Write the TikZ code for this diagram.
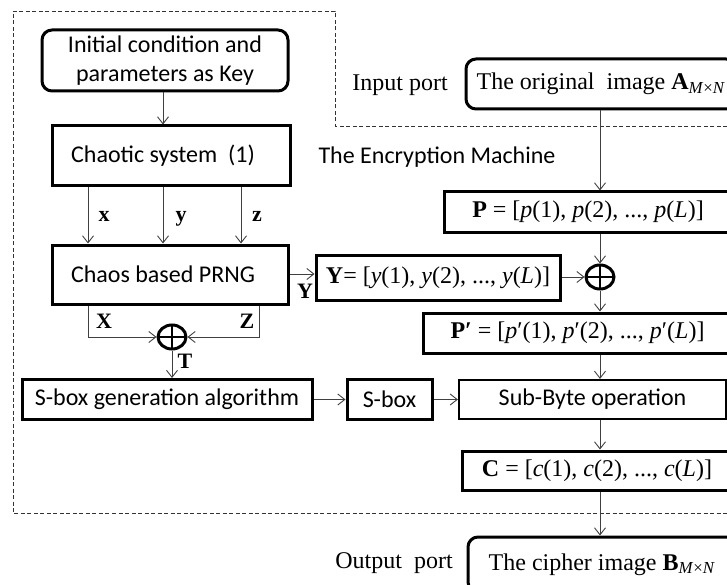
\documentclass[tikz,border=0pt]{standalone}
\usepackage{fontspec}
\setmainfont{Liberation Serif}
\newfontfamily\calib{Carlito}
\usetikzlibrary{arrows.meta,shapes.geometric}

% subscript "M x N"
\newcommand{\mxn}{\textsubscript{\textit{M}×\textit{N}}}

\begin{document}
\begin{tikzpicture}[x=1pt,y=-1pt,
  box/.style={draw, line width=3pt, rectangle, inner sep=0pt,
    font=\calib\fontsize{24}{29}\selectfont},
  rbox/.style={box, rounded corners=10pt},
  mbox/.style={draw, line width=3pt, rectangle, inner sep=0pt,
    font=\fontsize{24}{28}\selectfont},
  rmbox/.style={mbox, rounded corners=10pt},
  lab/.style={font=\bfseries\fontsize{22}{24}\selectfont, inner sep=0pt, anchor=base},
  plain/.style={font=\fontsize{24}{28}\selectfont, inner sep=0pt},
  arr/.style={-{Straight Barb[length=7pt,width=11pt]}, line width=0.9pt, draw=black!75},
  dashbox/.style={line width=0.9pt, draw=black!80, dash pattern=on 4pt off 2.5pt},
  xor/.style={ellipse, draw, line width=3pt, minimum width=28pt,
    minimum height=24pt, inner sep=0pt,
    path picture={\draw[line width=2.8pt]
      (path picture bounding box.north) -- (path picture bounding box.south)
      (path picture bounding box.west) -- (path picture bounding box.east);}}
]
\useasboundingbox (0,0) rectangle (727,585);
\clip (0,0) rectangle (727,585);

% outline of the encryption machine
\draw[dashbox] (740,126) -- (335,126) -- (335,11) -- (13,11) -- (13,513) -- (740,513);

% left column: key, chaotic system, PRNG
\node[rbox, minimum width=246pt, minimum height=61pt, align=center] (key) at (165,60.5)
  {Initial condition and\\parameters as Key};
\node[box, minimum width=238pt, minimum height=60pt] (chaos) at (171,156)
  {\hspace*{-16pt}Chaotic system\ \ (1)};
\node[box, minimum width=236pt, minimum height=59pt] (prng) at (170,274.5)
  {\hspace*{-14pt}Chaos based PRNG};

\coordinate (xa) at (88,0);
\coordinate (ya) at (163,0);
\coordinate (za) at (241,0);
\coordinate (xb) at (88,0);
\coordinate (zb) at (259,0);

\draw[arr] (key.south -| ya) -- (chaos.north -| ya);
\draw[arr] (chaos.south -| xa) -- (prng.north -| xa);
\draw[arr] (chaos.south -| ya) -- (prng.north -| ya);
\draw[arr] (chaos.south -| za) -- (prng.north -| za);
\node[lab] (lx) at (104,222) {x};
\node[lab] (ly) at (181,222) {y};
\node[lab] (lz) at (257,222) {z};

% X xor Z gives T
\node[xor] (xor0) at (172,337) {};
\draw[arr] (prng.south -| xb) |- (xor0.west);
\draw[arr] (prng.south -| zb) |- (xor0.east);
\node[lab] (lX) at (104,328) {X};
\node[lab] (lZ) at (247,328) {Z};

% S-box row
\node[box, minimum width=290pt, minimum height=40pt] (sgen) at (167,399.5)
  {S-box generation algorithm};
\node[box, minimum width=85pt, minimum height=40pt] (sbox) at (389.5,399.5) {S-box};
\node[box, line width=2.2pt, minimum width=267pt, minimum height=39pt] (sub) at (592.5,399.5)
  {Sub-Byte operation};
\draw[arr] (xor0.south) -- (sgen.north -| xor0);
\node[lab] (lT) at (185,368) {T};
\draw[arr] (sgen.east) -- (sbox.west);
\draw[arr] (sbox.east) -- (sub.west);

% Y sequence
\node[mbox, minimum width=244pt, minimum height=45pt] (ybox) at (438,277.5)
  {\textbf{Y}= [\textit{y}(1), \textit{y}(2), ..., \textit{y}(\textit{L})]};
\draw[arr] (prng.east |- 0,274) -- (ybox.west |- 0,274);
\node[lab] (lY) at (305,298) {Y};

% right column
\node[plain] (inport) at (400,85) {Input port};
\node[rmbox, minimum width=270pt, minimum height=50pt] (orig) at (601,84)
  {The original\ \ image \textbf{A}\mxn};
\node[font=\calib\fontsize{24}{28}\selectfont, inner sep=0pt] (title) at (437,157)
  {The Encryption Machine};

\node[mbox, minimum width=288pt, minimum height=40pt] (pbox) at (588,212)
  {\textbf{P} = [\textit{p}(1), \textit{p}(2), ..., \textit{p}(\textit{L})]};
\node[xor] (xor1) at (600,277) {};
\node[mbox, minimum width=309pt, minimum height=40pt] (ppbox) at (577.5,333)
  {\textbf{P′} = [\textit{p}′(1), \textit{p}′(2), ..., \textit{p}′(\textit{L})]};
\node[mbox, minimum width=270pt, minimum height=39pt] (cbox) at (597,470.5)
  {\textbf{C} = [\textit{c}(1), \textit{c}(2), ..., \textit{c}(\textit{L})]};
\node[plain] (outport) at (394,563) {Output\ \ port};
\node[rmbox, minimum width=268pt, minimum height=55pt] (ciph) at (602,564.5)
  {The cipher image \textbf{B}\mxn};

\draw[arr] (orig.south -| xor1) -- (pbox.north -| xor1);
\draw[arr] (pbox.south -| xor1) -- (xor1.north);
\draw[arr] (ybox.east |- xor1) -- (xor1.west);
\draw[arr] (xor1.south) -- (ppbox.north -| xor1);
\draw[arr] (ppbox.south -| xor1) -- (sub.north -| xor1);
\draw[arr] (sub.south -| xor1) -- (cbox.north -| xor1);
\draw[arr] (cbox.south -| xor1) -- (ciph.north -| xor1);
\end{tikzpicture}
\end{document}
